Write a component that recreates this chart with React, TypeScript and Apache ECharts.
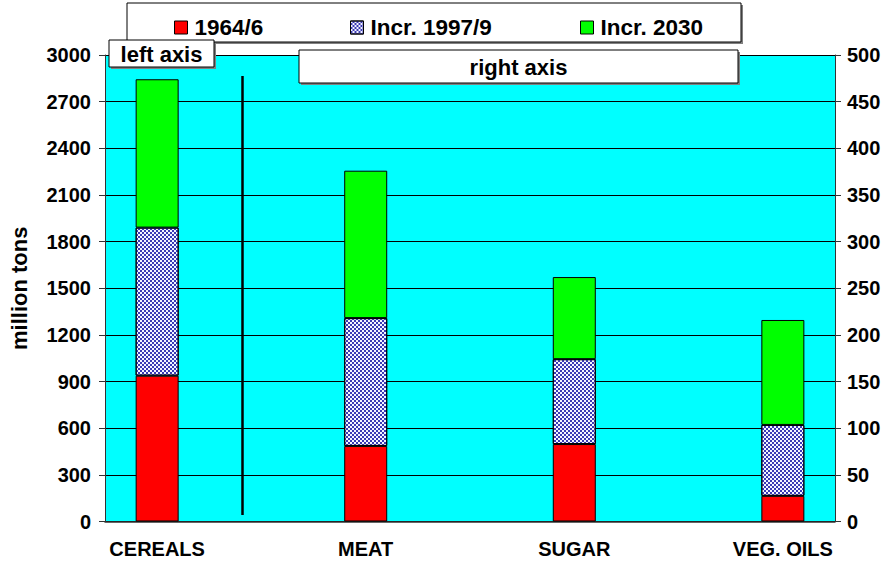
import React, { useEffect, useRef } from "react";
import * as echarts from "echarts";

// Categories (blank slots keep the spacing between the products)
const categories = ["CEREALS", "", "MEAT", "", "SUGAR", "", "VEG. OILS"];
// Categories read against the left axis; all others use the right axis
const leftAxisCategories = ["CEREALS"];

const seriesNames = ["1964/6", "Incr. 1997/9", "Incr. 2030"];
// million tons
const base1964: (number | null)[] = [938, null, 81, null, 83, null, 27.5];
const incr1997: (number | null)[] = [952, null, 137, null, 91, null, 76];
const incr2030: (number | null)[] = [954, null, 158, null, 88, null, 112.5];

const leftTicks = { min: 0, max: 3000, interval: 300 };
const rightTicks = { min: 0, max: 500, interval: 50 };

const FONT = "'Liberation Sans', Arial, Helvetica, sans-serif";

export default function App() {
  const ref = useRef<HTMLDivElement>(null);

  useEffect(() => {
    document.body.style.margin = "0";
    if (!ref.current) return;
    const chart = echarts.init(ref.current, undefined, { renderer: "svg" });

    const values = [base1964, incr1997, incr2030];
    const styles: any[] = [
      { color: "#ff0000", borderColor: "#000", borderWidth: 1 },
      {
        color: "#f4f4ff",
        borderColor: "#000",
        borderWidth: 1,
        decal: {
          symbol: "rect",
          symbolSize: 1,
          color: "#3a3ab4",
          dashArrayX: [
            [2, 2],
            [0, 2, 2, 0],
          ],
          dashArrayY: [2, 0],
          rotation: 0,
        },
      },
      { color: "#00ff00", borderColor: "#000", borderWidth: 1 },
    ];

    const series: any[] = [];
    [0, 1].forEach((axisIdx) => {
      seriesNames.forEach((name, i) => {
        series.push({
          type: "bar",
          name,
          stack: axisIdx === 0 ? "left" : "right",
          yAxisIndex: axisIdx,
          barWidth: 43,
          barGap: "-100%",
          itemStyle: styles[i],
          emphasis: { disabled: true },
          data: categories.map((c, k) => {
            const v = values[i][k];
            const onLeft = leftAxisCategories.includes(c);
            if (v == null) return "-";
            if ((axisIdx === 0) !== onLeft) return "-";
            return v;
          }),
        });
      });
    });

    const legendPos = [169, 345, 575];
    const legends = seriesNames.map((n, i) => ({
      data: [n],
      left: legendPos[i],
      top: 11,
      z: 200,
      icon: "rect",
      itemWidth: 13,
      itemHeight: 13,
      itemStyle: { borderColor: "#000", borderWidth: 1 },
      selectedMode: false,
      textStyle: {
        fontFamily: FONT,
        fontWeight: "bold",
        fontSize: 22.5,
        color: "#000",
        padding: [0, 0, 0, 2],
      },
    }));

    const boxText = (x: number, y: number, text: string) => ({
      type: "text",
      x,
      y,
      z: 150,
      style: {
        text,
        font: `bold 22px ${FONT}`,
        fill: "#000",
        align: "center",
        verticalAlign: "middle",
      },
    });
    const box = (x: number, y: number, w: number, h: number) => [
      {
        type: "rect",
        z: 99,
        shape: { x: x + 2, y: y + 2, width: w, height: h },
        style: { fill: "#808080" },
      },
      {
        type: "rect",
        z: 100,
        shape: { x, y, width: w, height: h },
        style: { fill: "#fff", stroke: "#000", lineWidth: 1 },
      },
    ];

    const axisLabel = {
      fontFamily: FONT,
      fontWeight: "bold",
      fontSize: 20,
      color: "#000",
      formatter: (v: any) => String(v),
    };

    chart.setOption({
      animation: false,
      legend: legends,
      grid: {
        left: 104,
        right: 52,
        top: 55,
        bottom: 43.5,
        show: true,
        backgroundColor: "#00ffff",
        borderWidth: 0,
      },
      xAxis: {
        type: "category",
        data: categories,
        boundaryGap: true,
        axisLine: { lineStyle: { color: "#333", width: 1.5 } },
        axisTick: { interval: 0, length: 5, lineStyle: { color: "#333" } },
        axisLabel: { ...axisLabel, interval: 0, margin: 17 },
        splitLine: { show: false },
      },
      yAxis: [
        {
          type: "value",
          ...leftTicks,
          position: "left",
          name: "million tons",
          nameLocation: "middle",
          nameGap: 75,
          nameTextStyle: {
            fontFamily: FONT,
            fontWeight: "bold",
            fontSize: 22,
            color: "#000",
          },
          axisLine: { show: true, lineStyle: { color: "#333" } },
          axisTick: { show: true, length: 6, lineStyle: { color: "#333" } },
          axisLabel: { ...axisLabel, margin: 14 },
          splitLine: { show: true, lineStyle: { color: "#000", width: 1 } },
        },
        {
          type: "value",
          ...rightTicks,
          position: "right",
          axisLine: { show: true, lineStyle: { color: "#333" } },
          axisTick: { show: true, length: 6, lineStyle: { color: "#333" } },
          axisLabel: { ...axisLabel, margin: 12 },
          splitLine: { show: false },
        },
      ],
      graphic: [
        ...box(127, 3, 614, 39),
        ...box(109, 40, 105, 27),
        boxText(161.5, 54.5, "left axis"),
        ...box(299, 50, 439, 33),
        boxText(518.5, 67, "right axis"),
        {
          type: "line",
          z: 50,
          shape: { x1: 242.5, y1: 76, x2: 242.5, y2: 515 },
          style: { stroke: "#000", lineWidth: 2.5 },
        },
      ],
      series,
    });

    return () => chart.dispose();
  }, []);

  return <div ref={ref} style={{ width: 887, height: 565 }} />;
}
